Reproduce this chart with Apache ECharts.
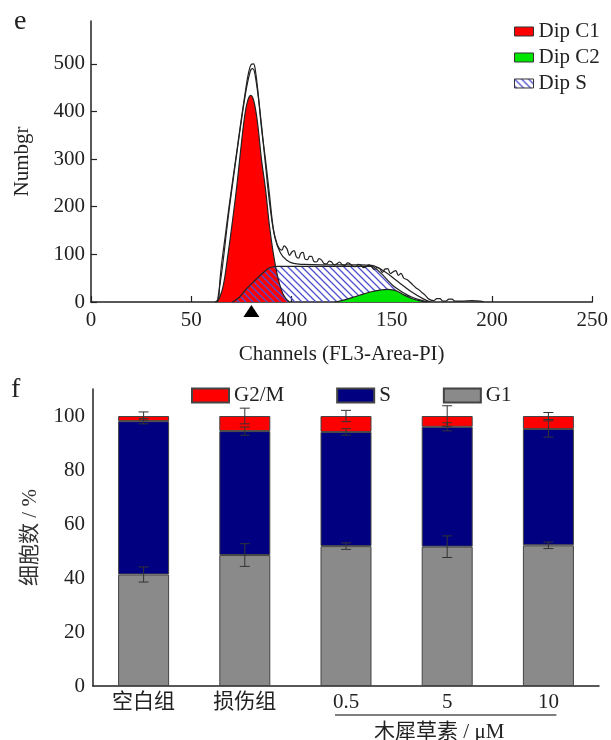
<!DOCTYPE html>
<html>
<head>
<meta charset="utf-8">
<script src="https://cdn.jsdelivr.net/npm/echarts@6/dist/echarts.min.js"></script>
<style>
  html, body { margin: 0; padding: 0; background: #fff; }
  #main { width: 611px; height: 740px; }
</style>
</head>
<body>
<div id="main"></div>
<script>
// panel e: flow cytometry histogram, [channel, count]
var xTickLabels = ['0', '50', '400', '150', '200', '250'];

var rawData = [[62,0],[63.5,3],[64.2,40],[65,75],[67,140],[69,205],[71,265],[73,325],[75,385],[77,442],[78.6,482],[79.8,498],[81,500],[82,486],[83.5,432],[85,366],[87,300],[89,226],[91,152],[92.7,123],[94,112],[95.2,109],[96.3,118],[97.7,112],[99,98],[100.2,105],[101.3,108],[102.4,95],[103.5,92],[104.6,102],[105.7,104],[106.8,90],[108,89],[109,96],[110,96],[111.2,85],[112.5,84],[113.7,91],[115,88],[116.2,81],[117.5,80],[118.8,86],[120,84],[121.3,78],[122.6,80],[124,84],[125.3,78],[126.6,77],[128,82],[129.3,80],[130.6,75],[132,74],[133.3,79],[134.6,77],[136,72],[137.3,74],[138.6,78],[140,74],[141.3,68],[142.6,72],[144,70],[145.3,62],[146.6,69],[148,70],[149.3,60],[150.6,63],[152,66],[153.3,56],[154.6,60],[156,50],[157.5,47],[159,42],[160.5,36],[162,30],[163.5,26],[165,20],[166.5,15],[168,8],[169.5,4],[171,3],[172.5,7],[174,7],[175.5,2],[177,2],[178.5,6],[180,6],[181.5,2],[185,2],[190,3],[194,2],[196,0]];

var fitData = [[63,0],[64,28],[65.5,72],[68.8,190],[72.9,318],[77,436],[79.4,484],[80.6,490],[81.8,478],[84.3,400],[86.8,298],[89.3,200],[91.8,134],[94.5,103],[97.5,88],[101,81],[106,79],[115,78],[125,78],[135,78],[140,77],[146.4,64],[153,43],[159.6,22],[166,6],[169.5,0]];

var c1Data = [[62,0],[64,8],[66,35],[68,90],[70.5,168],[72.9,250],[74.8,325],[76.8,395],[78.3,425],[79.7,434],[81.2,422],[83,378],[85,300],[87,238],[89,160],[91,100],[93,55],[95,25],[97,8],[99,0]];

var sData = [[70.5,0],[74,10],[77,25],[80.5,40],[83.7,53],[86.5,64],[88.6,71],[91,74],[93,75],[110,75],[125,75],[140,75],[144.7,60],[151.3,32],[159.6,11],[167.8,0]];

var c2Data = [[121.6,0],[126,4],[131.5,11],[136,17],[139.8,21.5],[144,25],[148,26.6],[151,25],[153,22],[156,15],[159.6,8],[163.5,3],[167.8,0]];

var markerChannel = 80;

// panel f: cell cycle distribution (%)
var groups = ['空白组', '损伤组', '0.5', '5', '10'];
var g1 = [41.3, 48.5, 51.8, 51.6, 52.1];
var sPhase = [56.8, 45.9, 42.3, 44.4, 43.1];
var g2m = [1.9, 5.6, 5.9, 4.0, 4.8];
var g1Err = [2.8, 4.2, 1.2, 4.0, 1.2];
var sErr = [1.0, 1.5, 1.2, 1.5, 3.0];
var g2mErr = [1.5, 2.9, 2.1, 3.8, 1.3];

var FONT = '"Liberation Serif", "Times New Roman", "Noto Sans CJK SC", serif';
var INK = '#222';

// hatch pattern for Dip S
function makeHatch() {
  var s = 7;
  var c = document.createElement('canvas');
  c.width = s; c.height = s;
  var ctx = c.getContext('2d');
  ctx.strokeStyle = '#4f4fd0';
  ctx.lineWidth = 1.3;
  ctx.beginPath();
  ctx.moveTo(-1, -1); ctx.lineTo(s + 1, s + 1);
  ctx.moveTo(s - 2, -2); ctx.lineTo(s + 2, 2);
  ctx.moveTo(-2, s - 2); ctx.lineTo(2, s + 2);
  ctx.stroke();
  return { image: c, repeat: 'repeat' };
}
var hatch = makeHatch();

var errData = [];
for (var i = 0; i < groups.length; i++) {
  errData.push([i, g1[i], g1Err[i]]);
  errData.push([i, g1[i] + sPhase[i], sErr[i]]);
  errData.push([i, g1[i] + sPhase[i] + g2m[i], g2mErr[i]]);
}

var chart = echarts.init(document.getElementById('main'));

var axisLine = { lineStyle: { color: INK, width: 1.5 } };
var tickStyle = { inside: true, length: 6, lineStyle: { color: INK, width: 1.2 } };
var labelStyle = { color: INK, fontFamily: FONT, fontSize: 21 };

function areaLine(name, data, fill, smooth) {
  return {
    name: name, type: 'line', xAxisIndex: 0, yAxisIndex: 0,
    data: data, symbol: 'none', smooth: smooth,
    lineStyle: { color: INK, width: 1.2 },
    itemStyle: { color: INK },
    areaStyle: { color: fill, opacity: 1 },
    silent: true
  };
}

var c1Series = areaLine('Dip C1', c1Data, '#ff0000', 0.4);
c1Series.markPoint = {
  symbol: 'triangle',
  symbolSize: [16, 12],
  symbolOffset: [0, 9],
  itemStyle: { color: '#000' },
  label: { show: false },
  data: [{ coord: [markerChannel, 0] }]
};

var option = {
  animation: false,
  textStyle: { fontFamily: FONT },
  grid: [
    { left: 91, top: 21, width: 505, height: 281 },
    { left: 93, top: 389, width: 506, height: 297 }
  ],
  legend: [
    {
      orient: 'vertical', left: 509, top: 16, itemWidth: 19, itemHeight: 9, itemGap: 5,
      textStyle: { fontFamily: FONT, fontSize: 21, color: INK },
      selectedMode: false,
      data: [
        { name: 'Dip C1', icon: 'rect', itemStyle: { color: '#ff0000', borderColor: '#333', borderWidth: 1 } },
        { name: 'Dip C2', icon: 'rect', itemStyle: { color: '#00e600', borderColor: '#333', borderWidth: 1 } },
        { name: 'Dip S', icon: 'rect', itemStyle: { color: hatch, borderColor: '#333', borderWidth: 1 } }
      ]
    },
    {
      orient: 'horizontal', left: 186, top: 380, itemWidth: 37, itemHeight: 14, itemGap: 52,
      textStyle: { fontFamily: FONT, fontSize: 21, color: INK },
      selectedMode: false,
      data: [
        { name: 'G2/M', icon: 'rect' },
        { name: 'S', icon: 'rect' },
        { name: 'G1', icon: 'rect' }
      ]
    }
  ],
  xAxis: [
    {
      type: 'value', gridIndex: 0, min: 0, max: 250, interval: 50,
      name: 'Channels (FL3-Area-PI)', nameLocation: 'middle', nameGap: 42,
      nameTextStyle: { color: INK, fontFamily: FONT, fontSize: 21 },
      axisLine: axisLine, axisTick: tickStyle, splitLine: { show: false },
      axisLabel: Object.assign({ margin: 8, formatter: function (v) { return xTickLabels[Math.round(v / 50)]; } }, labelStyle)
    },
    {
      type: 'category', gridIndex: 1, data: groups,
      axisLine: axisLine,
      axisTick: Object.assign({ alignWithLabel: true }, tickStyle),
      axisLabel: Object.assign({ margin: 6 }, labelStyle)
    }
  ],
  yAxis: [
    {
      type: 'value', gridIndex: 0, min: 0, max: 590, interval: 100,
      name: 'Numbgr', nameLocation: 'middle', nameGap: 58,
      nameTextStyle: { color: INK, fontFamily: FONT, fontSize: 21 },
      axisLine: Object.assign({ show: true }, axisLine), axisTick: tickStyle, splitLine: { show: false },
      axisLabel: Object.assign({ margin: 6, showMaxLabel: false }, labelStyle)
    },
    {
      type: 'value', gridIndex: 1, min: 0, max: 110, interval: 20,
      name: '细胞数 / %', nameLocation: 'middle', nameGap: 52,
      nameTextStyle: { color: '#333', fontFamily: FONT, fontSize: 21 },
      axisLine: Object.assign({ show: true }, axisLine), axisTick: tickStyle, splitLine: { show: false },
      axisLabel: Object.assign({ margin: 8, showMaxLabel: false }, labelStyle)
    }
  ],
  series: [
    c1Series,
    areaLine('Dip S', sData, hatch, 0.25),
    areaLine('Dip C2', c2Data, '#00e600', 0.4),
    {
      name: 'fit', type: 'line', xAxisIndex: 0, yAxisIndex: 0, data: fitData,
      symbol: 'none', smooth: 0.4, silent: true,
      lineStyle: { color: INK, width: 1.2 }
    },
    {
      name: 'raw', type: 'line', xAxisIndex: 0, yAxisIndex: 0, data: rawData,
      symbol: 'none', smooth: 0.4, silent: true,
      lineStyle: { color: INK, width: 1.2 }
    },
    {
      name: 'G1', type: 'bar', xAxisIndex: 1, yAxisIndex: 1, stack: 'cycle', barWidth: 51,
      data: g1, itemStyle: { color: '#8a8a8a', borderColor: '#444', borderWidth: 1 }
    },
    {
      name: 'S', type: 'bar', xAxisIndex: 1, yAxisIndex: 1, stack: 'cycle', barWidth: 51,
      data: sPhase, itemStyle: { color: '#000080', borderColor: '#444', borderWidth: 1 }
    },
    {
      name: 'G2/M', type: 'bar', xAxisIndex: 1, yAxisIndex: 1, stack: 'cycle', barWidth: 51,
      data: g2m, itemStyle: { color: '#ff0000', borderColor: '#444', borderWidth: 1 }
    },
    {
      name: 'err', type: 'custom', xAxisIndex: 1, yAxisIndex: 1, z: 5, silent: true,
      data: errData,
      encode: { x: 0, y: 1 },
      renderItem: function (params, api) {
        var x = api.value(0), top = api.value(1), err = api.value(2);
        var hi = api.coord([x, top + err]);
        var lo = api.coord([x, top - err]);
        var cap = 5;
        var st = { stroke: '#333', lineWidth: 1 };
        return {
          type: 'group',
          children: [
            { type: 'line', shape: { x1: hi[0], y1: hi[1], x2: lo[0], y2: lo[1] }, style: st },
            { type: 'line', shape: { x1: hi[0] - cap, y1: hi[1], x2: hi[0] + cap, y2: hi[1] }, style: st },
            { type: 'line', shape: { x1: lo[0] - cap, y1: lo[1], x2: lo[0] + cap, y2: lo[1] }, style: st }
          ]
        };
      }
    }
  ]
};

chart.setOption(option);

// bracket under the luteolin doses
var pA = chart.convertToPixel({ xAxisIndex: 1, yAxisIndex: 1 }, [2, 0]);
var pB = chart.convertToPixel({ xAxisIndex: 1, yAxisIndex: 1 }, [4, 0]);
var lineY = pA[1] + 29;
chart.setOption({
  graphic: [
    { type: 'text', left: 14, top: 8, style: { text: 'e', font: '28px ' + FONT, fill: INK } },
    { type: 'text', left: 11, top: 376, style: { text: 'f', font: '28px ' + FONT, fill: INK } },
    {
      type: 'line', shape: { x1: pA[0] - 11, y1: lineY, x2: pB[0] + 8, y2: lineY },
      style: { stroke: '#555', lineWidth: 1.5 }
    },
    {
      type: 'text', x: (pA[0] + pB[0]) / 2 - 8, y: lineY + 17,
      style: { text: '木犀草素 / μM', font: '21px ' + FONT, fill: INK, align: 'center', verticalAlign: 'middle' }
    }
  ]
});

window.addEventListener('resize', chart.resize);
</script>
</body>
</html>
